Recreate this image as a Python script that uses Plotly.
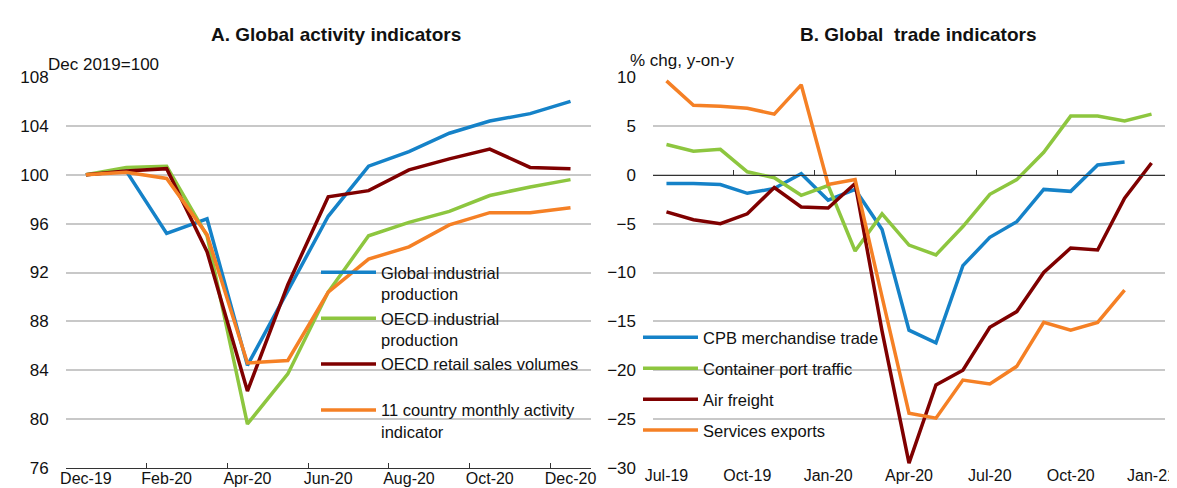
import plotly.graph_objects as go

# ---------------- data ----------------
months_a = ["Dec-19", "Jan-20", "Feb-20", "Mar-20", "Apr-20", "May-20", "Jun-20",
            "Jul-20", "Aug-20", "Sep-20", "Oct-20", "Nov-20", "Dec-20"]
global_ip = [100, 100.3, 95.2, 96.4, 84.4, 90.5, 96.6, 100.7, 101.9, 103.4, 104.4, 105.0, 106.0]
oecd_ip = [100, 100.6, 100.7, 95.0, 79.6, 83.7, 90.4, 95.0, 96.1, 97.0, 98.3, 99.0, 99.6]
oecd_retail = [100, 100.3, 100.5, 93.7, 82.3, 91.0, 98.2, 98.7, 100.4, 101.3, 102.1, 100.6, 100.5]
activity_11 = [100, 100.2, 99.7, 95.1, 84.6, 84.8, 90.4, 93.1, 94.1, 95.9, 96.9, 96.9, 97.3]

months_b = ["Jul-19", "Aug-19", "Sep-19", "Oct-19", "Nov-19", "Dec-19", "Jan-20", "Feb-20",
            "Mar-20", "Apr-20", "May-20", "Jun-20", "Jul-20", "Aug-20", "Sep-20", "Oct-20",
            "Nov-20", "Dec-20", "Jan-21"]
cpb_trade = [-0.9, -0.9, -1.0, -1.9, -1.4, 0.1, -2.6, -1.5, -5.6, -15.9, -17.2, -9.3, -6.4,
             -4.8, -1.5, -1.7, 1.0, 1.3, None]
port_traffic = [3.1, 2.4, 2.6, 0.3, -0.3, -2.1, -1.1, -7.8, -4.0, -7.2, -8.2, -5.3, -2.0,
                -0.5, 2.3, 6.0, 6.0, 5.5, 6.2]
air_freight = [-3.8, -4.6, -5.0, -4.0, -1.3, -3.3, -3.4, -0.9, -16.0, -29.5, -21.5, -20.0,
               -15.6, -14.0, -10.0, -7.5, -7.7, -2.4, 1.2]
services_exp = [9.6, 7.1, 7.0, 6.8, 6.2, 9.2, -1.0, -0.5, -12.5, -24.4, -24.9, -21.0, -21.4,
                -19.6, -15.1, -15.9, -15.1, -11.8, None]

names_a = ["Global industrial<br>production", "OECD industrial<br>production",
           "OECD retail sales volumes<br> ", "11 country monthly activity<br>indicator"]
names_b = ["CPB merchandise trade", "Container port traffic", "Air freight", "Services exports"]

BLUE, GREEN, RED, ORANGE = "#1582C8", "#8DC63F", "#7F0000", "#F58025"
FONT = "Liberation Sans, Arial, sans-serif"
TXT = "#111111"
GRID = "#c8c8c8"

W, H = 1177, 488
def px(x):
    return x / W
def py(y):
    return (H - y) / H

xa_dom = [px(57.7), px(582.7)]
xb_dom = [px(645), px(1157)]
y_dom = [py(460), py(69)]

fig = go.Figure()

for vals, name, col in zip([global_ip, oecd_ip, oecd_retail, activity_11], names_a,
                           [BLUE, GREEN, RED, ORANGE]):
    fig.add_trace(go.Scatter(x=months_a, y=vals, name=name, mode="lines",
                             line=dict(color=col, width=3.5), xaxis="x", yaxis="y",
                             legend="legend"))

for i, (vals, name, col) in enumerate(zip([cpb_trade, port_traffic, air_freight, services_exp],
                                          names_b, [BLUE, GREEN, RED, ORANGE])):
    fig.add_trace(go.Scatter(x=months_b, y=vals, name=name, mode="lines",
                             line=dict(color=col, width=3.5), xaxis="x2", yaxis="y2",
                             legend="legend2", legendgroup="g%d" % i))

# empty trace to carry the zero-line tick axis of panel B
fig.add_trace(go.Scatter(x=[], y=[], xaxis="x3", yaxis="y2", showlegend=False,
                         hoverinfo="skip"))

tickfont = dict(family=FONT, size=17, color=TXT)
xtickfont = dict(family=FONT, size=16, color=TXT)
n_b = len(months_b)

fig.update_layout(
    width=W, height=H,
    margin=dict(l=0, r=0, t=0, b=0),
    paper_bgcolor="white", plot_bgcolor="white",
    font=dict(family=FONT, size=17, color=TXT),
    showlegend=True,
    xaxis=dict(domain=xa_dom, anchor="y", type="category", categoryorder="array",
               categoryarray=months_a, range=[-0.5, len(months_a) - 0.5],
               tickmode="linear", tick0=0, dtick=2, tickson="boundaries",
               ticks="inside", ticklen=5, tickcolor="#333", tickwidth=1,
               showline=True, linecolor="#333", linewidth=1, showgrid=False,
               tickangle=0, tickfont=xtickfont, ticklabelstandoff=-4, automargin=False),
    yaxis=dict(domain=y_dom, anchor="x", range=[76, 108], tickmode="linear", tick0=76,
               dtick=4, showgrid=True, gridcolor=GRID, gridwidth=1.5, zeroline=False,
               showline=False, ticks="", tickfont=tickfont, ticklabelstandoff=16,
               automargin=False),
    xaxis2=dict(domain=xb_dom, anchor="y2", type="category", categoryorder="array",
                categoryarray=months_b, range=[-0.5, n_b - 0.5],
                tickmode="linear", tick0=0, dtick=3, ticks="", showline=False,
                showgrid=False, tickangle=0, tickfont=xtickfont, ticklabelstandoff=-4,
                automargin=False),
    xaxis3=dict(overlaying="x2", anchor="free",
                position=y_dom[0] + (0 - (-30)) / (10 - (-30)) * (y_dom[1] - y_dom[0]),
                type="linear", range=[-0.5, n_b - 0.5],
                tickmode="array", tickvals=[k - 0.5 for k in range(0, n_b - 1, 3)],
                ticks="inside", ticklen=5, tickcolor="#333", tickwidth=1,
                showticklabels=False, showline=True, linecolor="#333", linewidth=1,
                showgrid=False, zeroline=False, automargin=False),
    yaxis2=dict(domain=y_dom, anchor="x2", range=[-30, 10], tickmode="linear", tick0=-30,
                dtick=5, showgrid=True, gridcolor=GRID, gridwidth=1.5, zeroline=False,
                showline=False, ticks="", tickfont=tickfont, ticklabelstandoff=16,
                automargin=False),
    legend=dict(x=px(308), y=py(247), xanchor="left", yanchor="top",
                bgcolor="rgba(0,0,0,0)", borderwidth=0, valign="top",
                font=dict(family=FONT, size=16.5, color=TXT), itemwidth=55,
                tracegroupgap=0, traceorder="normal"),
    legend2=dict(x=px(630), y=py(312), xanchor="left", yanchor="top",
                 bgcolor="rgba(0,0,0,0)", borderwidth=0, valign="top",
                 font=dict(family=FONT, size=16.5, color=TXT), itemwidth=55,
                 tracegroupgap=6.5, traceorder="grouped"),
    annotations=[
        dict(text="<b>A. Global activity indicators</b>", x=px(328), y=py(26),
             xref="paper", yref="paper", xanchor="center", yanchor="middle",
             showarrow=False, font=dict(family=FONT, size=19, color=TXT)),
        dict(text="<b>B. Global\u00a0 trade indicators</b>", x=px(910), y=py(26),
             xref="paper", yref="paper", xanchor="center", yanchor="middle",
             showarrow=False, font=dict(family=FONT, size=19, color=TXT)),
        dict(text="Dec 2019=100", x=px(38), y=py(56), xref="paper", yref="paper",
             xanchor="left", yanchor="middle", showarrow=False,
             font=dict(family=FONT, size=17, color=TXT)),
        dict(text="% chg, y-on-y", x=px(620), y=py(53), xref="paper", yref="paper",
             xanchor="left", yanchor="middle", showarrow=False,
             font=dict(family=FONT, size=17, color=TXT)),
    ],
)

fig.write_html("out.html")
